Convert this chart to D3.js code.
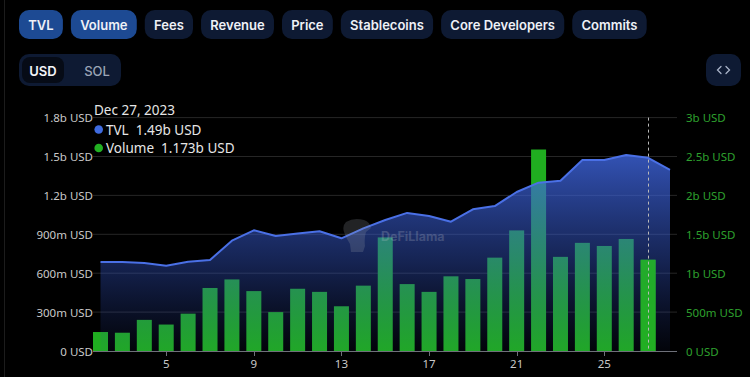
<!DOCTYPE html>
<html><head><meta charset="utf-8">
<script src="https://cdn.jsdelivr.net/npm/d3@7"></script>
<style>
html,body{margin:0;padding:0;background:#000;}
svg{display:block;}
</style></head>
<body>
<svg id="chart" width="750" height="377"></svg>
<script>
// ---- data ----
const tabs = ["TVL","Volume","Fees","Revenue","Price","Stablecoins","Core Developers","Commits"];
const activeTabs = ["TVL","Volume"];
const days = [2,3,4,5,6,7,8,9,10,11,12,13,14,15,16,17,18,19,20,21,22,23,24,25,26,27,28]; // December 2023
const tvl = [686,686,679,658,689,702,851,931,887,907,923,869,946,1010,1065,1041,997,1093,1118,1226,1298,1313,1473,1473,1512,1490,1396]; // millions USD
const volume = [244,235,400,340,480,810,920,770,500,800,760,575,840,1460,860,760,960,925,1200,1550,2590,1210,1390,1350,1440,1173,null]; // millions USD
const leftTicks = [0,300,600,900,1200,1500,1800];
const rightTicks = [0,500,1000,1500,2000,2500,3000];
const xTickDays = [5,9,13,17,21,25];
const hoverIndex = 25;

// ---- setup ----
const svg = d3.select("#chart");
const W = 750, H = 377;
const plotL = 93, plotR = 677, plotT = 117.6, plotB = 351;
const fontAxis = "'Noto Sans', 'Open Sans', sans-serif";

const dateOf = d => new Date(2023, 11, d);
const x = d3.scaleTime().domain([dateOf(2), dateOf(28)]).range([100.5, 670]);
const yL = d3.scaleLinear().domain([0,1800]).range([plotB, plotT]);
const yR = d3.scaleLinear().domain([0,3000]).range([plotB, plotT]);

const fmt = v => v === 0 ? "0 USD" : (v >= 1000 ? (v/1000) + "b USD" : v + "m USD");

// card edge
svg.append("line").attr("x1",4.5).attr("x2",4.5).attr("y1",0).attr("y2",H)
  .attr("stroke","#1c1c1c").attr("stroke-width",1);

// ---- tabs ----
const tabG = svg.append("g").attr("font-family","Inter, 'Noto Sans', sans-serif").attr("font-weight",600).attr("font-size",13);
let tx = 19;
tabs.forEach(t => {
  const tmp = tabG.append("text").text(t).attr("opacity",0);
  const tw = tmp.node().getComputedTextLength(); tmp.remove();
  const w = tw + 18.5;
  const active = activeTabs.includes(t);
  tabG.append("rect").attr("x",tx).attr("y",10).attr("width",w).attr("height",29).attr("rx",10)
    .attr("fill", active ? "#1d4a93" : "#0e1a33");
  tabG.append("text").attr("x",tx + w/2).attr("y",24.5).attr("text-anchor","middle")
    .attr("dominant-baseline","central").attr("fill","#eef1f7").text(t);
  tx += w + 8;
});

// ---- toggle ----
const tg = svg.append("g").attr("font-family","Inter, 'Noto Sans', sans-serif").attr("font-weight",600).attr("font-size",13);
tg.append("rect").attr("x",19).attr("y",54).attr("width",102).attr("height",32).attr("rx",10).attr("fill","#0e1a33");
tg.append("rect").attr("x",22).attr("y",57).attr("width",42).attr("height",26).attr("rx",8).attr("fill","#060b16");
tg.append("text").attr("x",43).attr("y",70.5).attr("text-anchor","middle").attr("dominant-baseline","central").attr("fill","#f2f4f8").text("USD");
tg.append("text").attr("x",97).attr("y",70.5).attr("text-anchor","middle").attr("dominant-baseline","central").attr("fill","#9ba4b6").attr("font-weight",500).text("SOL");

// embed button
svg.append("rect").attr("x",706).attr("y",54).attr("width",35).attr("height",32).attr("rx",10).attr("fill","#0e1a33");
svg.append("path").attr("d","M721,66.5 L717.5,70 L721,73.5 M726,66.5 L729.5,70 L726,73.5")
  .attr("fill","none").attr("stroke","#a9b3c8").attr("stroke-width",1.3).attr("stroke-linecap","round");

// ---- grid ----
const grid = svg.append("g");
grid.selectAll("line").data(leftTicks.slice(1)).join("line")
  .attr("x1",plotL).attr("x2",plotR).attr("y1",d=>yL(d)).attr("y2",d=>yL(d))
  .attr("stroke","#262626").attr("stroke-width",1);

// ---- left axis labels ----
svg.append("g").selectAll("text").data(leftTicks).join("text")
  .attr("x",plotL).attr("y",d=>yL(d)).attr("text-anchor","end").attr("dominant-baseline","central")
  .attr("font-family",fontAxis).attr("font-size",11.5).attr("fill","#c9c9c9").text(fmt);

// ---- right axis labels ----
svg.append("g").selectAll("text").data(rightTicks).join("text")
  .attr("x",686).attr("y",d=>yR(d)).attr("text-anchor","start").attr("dominant-baseline","central")
  .attr("font-family",fontAxis).attr("font-size",11.5).attr("fill","#2ea02e").text(fmt);

// ---- bars ----
const rows = days.map((d,i)=>({date:dateOf(d), tvl:tvl[i], vol:volume[i], i}));
const bw = 15;
svg.append("g").selectAll("rect").data(rows.filter(r=>r.vol!=null)).join("rect")
  .attr("x",r=>x(r.date)-bw/2).attr("width",bw)
  .attr("y",r=>yR(r.vol)).attr("height",r=>plotB-yR(r.vol))
  .attr("fill","#20ad20");

// ---- TVL area ----
const defs = svg.append("defs");
const grad = defs.append("linearGradient").attr("id","tvlGrad").attr("x1",0).attr("y1",0).attr("x2",0).attr("y2",1);
grad.append("stop").attr("offset","0%").attr("stop-color","#4169e6").attr("stop-opacity",0.78);
grad.append("stop").attr("offset","55%").attr("stop-color","#3558cc").attr("stop-opacity",0.4);
grad.append("stop").attr("offset","100%").attr("stop-color","#2a45a8").attr("stop-opacity",0.06);

const area = d3.area().x(r=>x(r.date)).y0(plotB).y1(r=>yL(r.tvl));
svg.append("path").datum(rows).attr("d",area).attr("fill","url(#tvlGrad)");

// hovered bar emphasized on top
svg.append("g").selectAll("rect").data(rows.filter(r=>r.i===hoverIndex)).join("rect")
  .attr("x",r=>x(r.date)-bw/2).attr("width",bw)
  .attr("y",r=>yR(r.vol)).attr("height",r=>plotB-yR(r.vol))
  .attr("fill","#22b022").attr("opacity",0.85);

const line = d3.line().x(r=>x(r.date)).y(r=>yL(r.tvl));
svg.append("path").datum(rows).attr("d",line).attr("fill","none")
  .attr("stroke","#4a70e6").attr("stroke-width",2).attr("stroke-linejoin","round");

// ---- watermark ----
const wm = svg.append("g").attr("opacity",0.22);
wm.append("path").attr("d","M346,222 q8,-5 18,-2 q6,2 7,8 l-5,4 q-2,6 -1,14 l-2,6 h-12 l-1,-8 q-4,-6 -6,-12 q-2,-6 2,-10 z")
  .attr("fill","#9aa0a8");
wm.append("text").attr("x",381).attr("y",241).attr("font-family","Inter, sans-serif").attr("font-weight",700)
  .attr("font-size",12.5).attr("fill","#c8ccd4").text("DeFiLlama");

// ---- x axis ----
svg.append("line").attr("x1",plotL).attr("x2",plotR).attr("y1",plotB+0.5).attr("y2",plotB+0.5)
  .attr("stroke","#6e7079").attr("stroke-width",1);
const xa = svg.append("g");
xa.selectAll("line").data(xTickDays).join("line")
  .attr("x1",d=>Math.round(x(dateOf(d)))+0.5).attr("x2",d=>Math.round(x(dateOf(d)))+0.5)
  .attr("y1",plotB).attr("y2",plotB+5).attr("stroke","#6e7079");
xa.selectAll("text").data(xTickDays).join("text")
  .attr("x",d=>x(dateOf(d))).attr("y",363).attr("text-anchor","middle").attr("dominant-baseline","central")
  .attr("font-family",fontAxis).attr("font-size",11.5).attr("fill","#c9c9c9").text(d=>d3.timeFormat("%-d")(dateOf(d)));

// ---- hover crosshair ----
const hr = rows[hoverIndex];
svg.append("line").attr("x1",Math.round(x(hr.date))+0.5).attr("x2",Math.round(x(hr.date))+0.5)
  .attr("y1",plotT).attr("y2",plotB).attr("stroke","#b8b8b8").attr("stroke-width",1).attr("stroke-dasharray","3,3");

// ---- tooltip ----
const tt = svg.append("g").attr("font-family",fontAxis).attr("fill","#e6e6e6");
tt.append("text").attr("x",94).attr("y",110).attr("dominant-baseline","central").attr("font-size",13.5)
  .text(d3.timeFormat("%b %-d, %Y")(hr.date));
const ttRows = [
  {name:"TVL", color:"#3f6be0", val:hr.tvl, y:129.5},
  {name:"Volume", color:"#22b022", val:hr.vol, y:148}
];
ttRows.forEach(r=>{
  tt.append("circle").attr("cx",98.7).attr("cy",r.y).attr("r",4.3).attr("fill",r.color);
  tt.append("text").attr("x",106).attr("y",r.y).attr("dominant-baseline","central").attr("font-size",13.5)
    .text(r.name + "\u00a0\u00a0" + (r.val/1000) + "b USD");
});
</script>
</body></html>
